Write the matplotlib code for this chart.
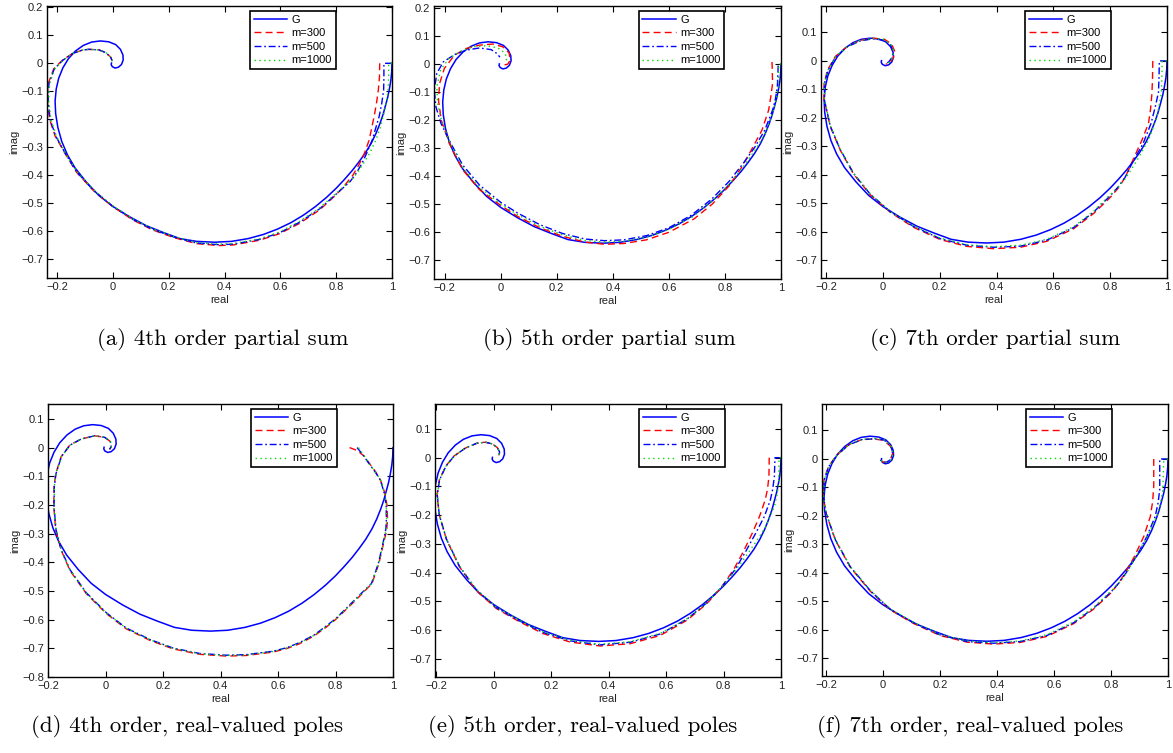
import matplotlib
matplotlib.use("Agg")
import matplotlib.pyplot as plt
from matplotlib.ticker import MultipleLocator, FuncFormatter

plt.rcParams['font.family'] = ['Liberation Sans', 'DejaVu Sans']
plt.rcParams['lines.scale_dashes'] = False

# ---------------- data ----------------
series_labels = ["G", "m=300", "m=500", "m=1000"]
captions = ["(a) 4th order partial sum", "(b) 5th order partial sum", "(c) 7th order partial sum",
            "(d) 4th order, real-valued poles", "(e) 5th order, real-valued poles",
            "(f) 7th order, real-valued poles"]

G_pts = [(1.000,0.000),(0.999,-0.030),(0.996,-0.060),(0.991,-0.090),(0.985,-0.120),(0.977,-0.150),(0.968,-0.183),
         (0.957,-0.215),(0.943,-0.250),(0.926,-0.285),(0.905,-0.320),(0.882,-0.352),(0.858,-0.383),(0.830,-0.415),
         (0.800,-0.447),(0.765,-0.480),(0.725,-0.513),(0.683,-0.543),(0.638,-0.570),(0.590,-0.593),(0.540,-0.612),
         (0.485,-0.627),(0.425,-0.637),(0.365,-0.640),(0.300,-0.637),(0.240,-0.627),(0.180,-0.605),(0.120,-0.581),
         (0.060,-0.549),(0.000,-0.512),(-0.050,-0.473),(-0.095,-0.425),(-0.135,-0.375),(-0.163,-0.327),
         (-0.183,-0.280),(-0.197,-0.230),(-0.205,-0.180),(-0.207,-0.135),(-0.203,-0.092),(-0.194,-0.053),
         (-0.179,-0.016),(-0.159,0.017),(-0.134,0.044),(-0.106,0.064),(-0.076,0.076),(-0.045,0.080),(-0.015,0.077),
         (0.010,0.067),(0.027,0.050),(0.036,0.030),(0.037,0.012),(0.031,-0.004),(0.020,-0.014),(0.008,-0.017),
         (-0.002,-0.012),(-0.006,-0.005),(-0.005,0.001)]

a_m300 = [(0.956,0.000),(0.955,-0.050),(0.951,-0.096),(0.944,-0.145),(0.936,-0.190),(0.918,-0.275),(0.900,-0.325),
          (0.882,-0.362),(0.860,-0.400),(0.830,-0.437),(0.800,-0.470),(0.740,-0.525),(0.668,-0.573),(0.596,-0.610),
          (0.525,-0.633),(0.430,-0.650),(0.380,-0.652),(0.300,-0.645),(0.220,-0.624),(0.140,-0.595),(0.073,-0.561),
          (0.000,-0.513),(-0.070,-0.455),(-0.130,-0.390),(-0.171,-0.323),(-0.207,-0.260),(-0.227,-0.200),
          (-0.235,-0.132),(-0.232,-0.073),(-0.212,-0.020),(-0.180,0.012),(-0.145,0.035),(-0.110,0.047),
          (-0.086,0.050),(-0.050,0.048),(-0.025,0.038),(-0.008,0.022),(-0.002,0.008)]
a_m500 = [(1.000,0.000),(0.971,0.000),(0.971,-0.050),(0.970,-0.096),(0.963,-0.145),(0.954,-0.190),(0.929,-0.275),
          (0.910,-0.320),(0.893,-0.357),(0.872,-0.393),(0.850,-0.423),(0.800,-0.468),(0.740,-0.521),(0.668,-0.569),
          (0.596,-0.607),(0.525,-0.630),(0.430,-0.647),(0.380,-0.649),(0.300,-0.643),(0.220,-0.622),(0.140,-0.593),
          (0.073,-0.559),(0.000,-0.512),(-0.070,-0.454),(-0.130,-0.388),(-0.170,-0.323),(-0.205,-0.260),
          (-0.225,-0.200),(-0.232,-0.132),(-0.229,-0.073),(-0.210,-0.020),(-0.178,0.012),(-0.144,0.035),
          (-0.110,0.047),(-0.086,0.050),(-0.050,0.048),(-0.025,0.038),(-0.008,0.022),(-0.002,0.008)]
a_m1000 = [(1.000,0.000),(0.988,0.000),(0.988,-0.050),(0.986,-0.096),(0.980,-0.140),(0.971,-0.180),(0.958,-0.230),
           (0.942,-0.275),(0.922,-0.318),(0.900,-0.355),(0.878,-0.388),(0.855,-0.417),(0.800,-0.465),(0.740,-0.518),
           (0.668,-0.566),(0.596,-0.604),(0.525,-0.628),(0.430,-0.645),(0.380,-0.647),(0.300,-0.641),(0.220,-0.620),
           (0.140,-0.591),(0.073,-0.557),(0.000,-0.510),(-0.070,-0.452),(-0.130,-0.386),(-0.170,-0.322),
           (-0.203,-0.260),(-0.222,-0.200),(-0.230,-0.132),(-0.227,-0.073),(-0.208,-0.020),(-0.177,0.012),
           (-0.144,0.035),(-0.110,0.047),(-0.086,0.050),(-0.050,0.048),(-0.025,0.038),(-0.008,0.022),(-0.002,0.008)]

b_m300 = [(0.968,0.008),(0.970,-0.069),(0.963,-0.120),(0.956,-0.164),(0.932,-0.236),(0.900,-0.296),(0.862,-0.365),
          (0.815,-0.435),(0.755,-0.500),(0.690,-0.553),(0.600,-0.601),(0.520,-0.628),(0.440,-0.641),(0.370,-0.644),
          (0.300,-0.636),(0.220,-0.615),(0.140,-0.585),(0.060,-0.544),(0.000,-0.505),(-0.076,-0.448),
          (-0.136,-0.377),(-0.183,-0.284),(-0.212,-0.200),(-0.222,-0.129),(-0.218,-0.069),(-0.201,-0.015),
          (-0.165,0.032),(-0.124,0.056),(-0.076,0.068),(-0.028,0.072),(0.008,0.062),(0.030,0.040),(0.034,0.015),
          (0.025,0.000),(0.012,-0.003)]
b_m500 = [(0.990,-0.005),(0.987,-0.081),(0.980,-0.125),(0.970,-0.164),(0.942,-0.236),(0.907,-0.296),(0.867,-0.352),
          (0.814,-0.420),(0.752,-0.483),(0.680,-0.540),(0.600,-0.585),(0.520,-0.613),(0.440,-0.628),(0.370,-0.631),
          (0.300,-0.625),(0.220,-0.605),(0.140,-0.574),(0.060,-0.532),(0.000,-0.494),(-0.076,-0.432),
          (-0.136,-0.360),(-0.177,-0.285),(-0.213,-0.212),(-0.231,-0.153),(-0.237,-0.093),(-0.228,-0.033),
          (-0.205,0.008),(-0.165,0.034),(-0.124,0.050),(-0.076,0.058),(-0.034,0.052),(-0.012,0.037),(-0.003,0.025)]
b_m1000 = [(1.000,0.000),(0.992,0.000),(0.990,-0.080),(0.984,-0.120),(0.975,-0.160),(0.948,-0.240),(0.912,-0.300),
           (0.870,-0.360),(0.816,-0.428),(0.754,-0.490),(0.684,-0.546),(0.600,-0.591),(0.520,-0.619),(0.440,-0.633),
           (0.370,-0.636),(0.300,-0.630),(0.220,-0.610),(0.140,-0.580),(0.060,-0.538),(0.000,-0.500),
           (-0.076,-0.440),(-0.136,-0.368),(-0.180,-0.282),(-0.210,-0.205),(-0.225,-0.140),(-0.228,-0.080),
           (-0.214,-0.020),(-0.185,0.020),(-0.145,0.045),(-0.100,0.062),(-0.050,0.066),(-0.010,0.058),(0.015,0.040),
           (0.022,0.020),(0.015,0.005)]

c_m300 = [(0.950,0.000),(0.949,-0.060),(0.947,-0.114),(0.942,-0.170),(0.935,-0.219),(0.912,-0.278),(0.885,-0.337),
          (0.855,-0.405),(0.830,-0.445),(0.800,-0.480),(0.742,-0.536),(0.671,-0.590),(0.577,-0.634),(0.484,-0.655),
          (0.390,-0.660),(0.296,-0.652),(0.202,-0.628),(0.108,-0.585),(0.026,-0.532),(-0.045,-0.470),
          (-0.103,-0.398),(-0.150,-0.314),(-0.185,-0.231),(-0.207,-0.137),(-0.207,-0.079),(-0.195,-0.032),
          (-0.168,0.015),(-0.127,0.050),(-0.080,0.072),(-0.035,0.080),(0.005,0.076),(0.030,0.060),(0.041,0.035),
          (0.037,0.012),(0.025,-0.006),(0.010,-0.012)]
c_m500 = [(1.000,0.000),(0.973,0.000),(0.972,-0.055),(0.970,-0.110),(0.959,-0.160),(0.944,-0.219),(0.916,-0.290),
          (0.882,-0.350),(0.852,-0.410),(0.828,-0.443),(0.800,-0.474),(0.742,-0.531),(0.671,-0.586),(0.577,-0.630),
          (0.484,-0.651),(0.390,-0.655),(0.296,-0.648),(0.202,-0.625),(0.108,-0.582),(0.026,-0.530),
          (-0.045,-0.468),(-0.103,-0.396),(-0.150,-0.312),(-0.185,-0.230),(-0.206,-0.137),(-0.206,-0.079),
          (-0.193,-0.032),(-0.166,0.015),(-0.125,0.050),(-0.080,0.070),(-0.035,0.078),(0.003,0.073),(0.027,0.056),
          (0.036,0.032),(0.032,0.012),(0.020,-0.004),(0.008,-0.010)]
c_m1000 = [(1.000,0.000),(0.983,0.000),(0.982,-0.060),(0.980,-0.114),(0.965,-0.196),(0.935,-0.278),(0.897,-0.345),
           (0.856,-0.410),(0.830,-0.442),(0.800,-0.470),(0.742,-0.528),(0.671,-0.583),(0.577,-0.627),(0.484,-0.648),
           (0.390,-0.653),(0.296,-0.646),(0.202,-0.623),(0.108,-0.580),(0.026,-0.530),(-0.045,-0.467),
           (-0.103,-0.395),(-0.150,-0.311),(-0.185,-0.229),(-0.206,-0.137),(-0.206,-0.079),(-0.193,-0.032),
           (-0.166,0.016),(-0.125,0.051),(-0.080,0.072),(-0.035,0.079),(0.004,0.075),(0.028,0.058),(0.038,0.034),
           (0.034,0.012),(0.022,-0.005),(0.008,-0.011)]

d_m300 = [(0.849,0.000),(0.875,-0.010),(0.900,-0.030),(0.918,-0.055),(0.940,-0.085),(0.957,-0.115),(0.972,-0.160),
          (0.979,-0.200),(0.981,-0.250),(0.978,-0.288),(0.968,-0.330),(0.951,-0.404),(0.927,-0.474),(0.890,-0.512),
          (0.846,-0.556),(0.800,-0.600),(0.768,-0.626),(0.725,-0.657),(0.675,-0.684),(0.630,-0.701),(0.583,-0.713),
          (0.490,-0.725),(0.420,-0.727),(0.328,-0.721),(0.235,-0.702),(0.154,-0.672),(0.072,-0.632),(0.003,-0.579),
          (-0.067,-0.509),(-0.124,-0.428),(-0.154,-0.358),(-0.173,-0.288),(-0.180,-0.206),(-0.179,-0.136),
          (-0.173,-0.090),(-0.154,-0.031),(-0.124,0.009),(-0.084,0.030),(-0.038,0.041),(-0.003,0.036),
          (0.017,0.021),(0.020,0.003),(0.014,-0.006)]
d_m500 = [(0.875,0.000),(0.895,-0.025),(0.916,-0.055),(0.938,-0.085),(0.956,-0.113),(0.970,-0.160),(0.976,-0.200),
          (0.977,-0.250),(0.975,-0.285),(0.966,-0.330),(0.949,-0.404),(0.925,-0.474),(0.888,-0.510),(0.845,-0.553),
          (0.800,-0.597),(0.768,-0.622),(0.725,-0.654),(0.675,-0.680),(0.630,-0.698),(0.583,-0.710),(0.490,-0.722),
          (0.420,-0.724),(0.328,-0.718),(0.235,-0.699),(0.154,-0.669),(0.072,-0.629),(0.003,-0.576),(-0.067,-0.506),
          (-0.124,-0.425),(-0.154,-0.356),(-0.172,-0.288),(-0.179,-0.206),(-0.178,-0.136),(-0.172,-0.090),
          (-0.153,-0.031),(-0.123,0.009),(-0.084,0.030),(-0.038,0.041),(-0.003,0.036),(0.017,0.021),(0.020,0.003),
          (0.014,-0.006)]
d_m1000 = [(0.880,0.000),(0.897,-0.025),(0.917,-0.055),(0.939,-0.085),(0.957,-0.113),(0.971,-0.160),(0.977,-0.200),
           (0.978,-0.250),(0.976,-0.285),(0.967,-0.330),(0.950,-0.404),(0.926,-0.474),(0.889,-0.511),(0.846,-0.554),
           (0.800,-0.598),(0.768,-0.623),(0.725,-0.655),(0.675,-0.681),(0.630,-0.699),(0.583,-0.711),(0.490,-0.723),
           (0.420,-0.725),(0.328,-0.719),(0.235,-0.700),(0.154,-0.670),(0.072,-0.630),(0.003,-0.577),
           (-0.067,-0.507),(-0.124,-0.426),(-0.154,-0.357),(-0.172,-0.288),(-0.179,-0.206),(-0.178,-0.136),
           (-0.172,-0.090),(-0.153,-0.031),(-0.123,0.009),(-0.084,0.030),(-0.038,0.041),(-0.003,0.036),
           (0.017,0.021),(0.020,0.003),(0.014,-0.006)]

e_m300 = [(0.959,0.000),(0.958,-0.065),(0.953,-0.110),(0.945,-0.147),(0.925,-0.205),(0.900,-0.263),(0.870,-0.325),
          (0.835,-0.390),(0.790,-0.455),(0.740,-0.510),(0.673,-0.566),(0.580,-0.619),(0.475,-0.648),(0.370,-0.656),
          (0.265,-0.642),(0.172,-0.613),(0.090,-0.572),(0.008,-0.525),(-0.062,-0.462),(-0.120,-0.380),
          (-0.165,-0.285),(-0.190,-0.200),(-0.198,-0.130),(-0.190,-0.077),(-0.168,-0.030),(-0.140,0.005),
          (-0.100,0.033),(-0.060,0.050),(-0.030,0.054),(-0.005,0.048),(0.012,0.035),(0.020,0.020),(0.018,0.008)]
e_m500 = [(1.000,0.000),(0.979,0.000),(0.977,-0.065),(0.971,-0.110),(0.963,-0.147),(0.942,-0.205),(0.912,-0.263),
          (0.878,-0.325),(0.840,-0.390),(0.792,-0.452),(0.740,-0.507),(0.673,-0.562),(0.580,-0.614),(0.475,-0.643),
          (0.370,-0.652),(0.265,-0.638),(0.172,-0.609),(0.090,-0.569),(0.008,-0.522),(-0.062,-0.459),
          (-0.120,-0.378),(-0.165,-0.284),(-0.190,-0.200),(-0.197,-0.130),(-0.189,-0.077),(-0.167,-0.030),
          (-0.139,0.005),(-0.100,0.033),(-0.060,0.050),(-0.030,0.054),(-0.005,0.048),(0.012,0.035),(0.020,0.020),
          (0.018,0.008)]
e_m1000 = [(1.000,0.000),(0.993,0.000),(0.992,-0.089),(0.986,-0.130),(0.977,-0.170),(0.947,-0.240),(0.915,-0.290),
           (0.880,-0.340),(0.840,-0.395),(0.792,-0.452),(0.740,-0.506),(0.673,-0.561),(0.580,-0.612),(0.475,-0.641),
           (0.370,-0.650),(0.265,-0.636),(0.172,-0.607),(0.090,-0.567),(0.008,-0.520),(-0.062,-0.457),
           (-0.120,-0.377),(-0.165,-0.283),(-0.190,-0.200),(-0.197,-0.130),(-0.189,-0.077),(-0.167,-0.030),
           (-0.139,0.005),(-0.100,0.033),(-0.060,0.050),(-0.030,0.054),(-0.005,0.048),(0.012,0.035),(0.020,0.020),
           (0.018,0.008)]

f_m300 = [(0.950,0.000),(0.950,-0.096),(0.946,-0.150),(0.938,-0.202),(0.915,-0.272),(0.882,-0.343),(0.850,-0.400),
          (0.826,-0.437),(0.800,-0.470),(0.739,-0.527),(0.669,-0.578),(0.575,-0.623),(0.482,-0.644),(0.388,-0.650),
          (0.295,-0.643),(0.201,-0.620),(0.108,-0.578),(0.026,-0.530),(-0.044,-0.465),(-0.115,-0.380),
          (-0.167,-0.285),(-0.200,-0.190),(-0.210,-0.131),(-0.207,-0.073),(-0.191,-0.026),(-0.161,0.015),
          (-0.120,0.050),(-0.074,0.068),(-0.033,0.070),(0.002,0.066),(0.026,0.045),(0.034,0.020),(0.026,-0.002),
          (0.012,-0.012),(-0.002,-0.010),(-0.010,-0.002)]
f_m500 = [(1.000,0.000),(0.971,0.000),(0.971,-0.108),(0.965,-0.155),(0.955,-0.202),(0.926,-0.272),(0.890,-0.340),
          (0.853,-0.400),(0.828,-0.435),(0.800,-0.467),(0.739,-0.524),(0.669,-0.575),(0.575,-0.620),(0.482,-0.641),
          (0.388,-0.647),(0.295,-0.641),(0.201,-0.618),(0.108,-0.576),(0.026,-0.528),(-0.044,-0.463),
          (-0.115,-0.378),(-0.167,-0.284),(-0.200,-0.190),(-0.209,-0.131),(-0.206,-0.073),(-0.190,-0.026),
          (-0.160,0.015),(-0.119,0.050),(-0.074,0.068),(-0.033,0.071),(0.003,0.067),(0.027,0.046),(0.035,0.020),
          (0.027,-0.002),(0.012,-0.012),(-0.002,-0.010),(-0.010,-0.002)]
f_m1000 = [(1.000,0.000),(0.985,-0.008),(0.982,-0.108),(0.973,-0.158),(0.961,-0.202),(0.932,-0.261),(0.895,-0.330),
           (0.856,-0.398),(0.830,-0.433),(0.800,-0.464),(0.739,-0.521),(0.669,-0.572),(0.575,-0.617),(0.482,-0.639),
           (0.388,-0.645),(0.295,-0.639),(0.201,-0.616),(0.108,-0.574),(0.026,-0.527),(-0.044,-0.462),
           (-0.115,-0.377),(-0.167,-0.283),(-0.200,-0.190),(-0.209,-0.131),(-0.206,-0.073),(-0.190,-0.026),
           (-0.160,0.016),(-0.119,0.051),(-0.074,0.069),(-0.033,0.072),(0.003,0.068),(0.028,0.047),(0.036,0.020),
           (0.028,-0.002),(0.013,-0.012),(-0.002,-0.010),(-0.010,-0.002)]

# ---------------- layout ----------------
W, H = 1173, 753
fig = plt.figure(figsize=(W / 100, H / 100), dpi=100)

# (left, top, right, bottom) in pixels, xlim, ylim, caption centre (px)
panels = [
    ((47, 6, 392, 278), (-0.236, 1.0), (-0.768, 0.205), (223, 339), a_m300, a_m500, a_m1000),
    ((434, 6, 781, 279), (-0.238, 1.0), (-0.768, 0.208), (609, 339), b_m300, b_m500, b_m1000),
    ((821, 6, 1167, 278), (-0.218, 1.0), (-0.763, 0.193), (995, 339), c_m300, c_m500, c_m1000),
    ((48, 404, 393, 677), (-0.200, 1.0), (-0.800, 0.152), (187, 727), d_m300, d_m500, d_m1000),
    ((435, 404, 781, 677), (-0.205, 1.0), (-0.764, 0.187), (583, 727), e_m300, e_m500, e_m1000),
    ((822, 404, 1168, 676), (-0.214, 1.0), (-0.762, 0.193), (970, 727), f_m300, f_m500, f_m1000),
]


def fmt(v, pos):
    v = round(v, 6)
    if abs(v) < 1e-9:
        return "0"
    s = "%g" % v
    return s.replace("-", "\u2212")


Gx, Gy = zip(*G_pts)
for i, (box, xl, yl, cap, m300, m500, m1000) in enumerate(panels):
    l, t, r, b = box
    ax = fig.add_axes([l / W, 1 - b / H, (r - l) / W, (b - t) / H])
    h1, = ax.plot(Gx, Gy, color='#0000ff', lw=1.1, ls='-', label=series_labels[0])
    x3, y3 = zip(*m300)
    h2, = ax.plot(x3, y3, color='#ff0000', lw=1.0, ls=(0, (5, 3)), label=series_labels[1])
    x5, y5 = zip(*m500)
    h3, = ax.plot(x5, y5, color='#0000ff', lw=1.0, ls=(0, (5, 2, 1.2, 2)), label=series_labels[2])
    x10, y10 = zip(*m1000)
    h4, = ax.plot(x10, y10, color='#00dd00', lw=1.0, ls=(0, (1, 2.5)), label=series_labels[3])

    ax.set_xlim(*xl)
    ax.set_ylim(*yl)
    ax.xaxis.set_major_locator(MultipleLocator(0.2))
    ax.yaxis.set_major_locator(MultipleLocator(0.1))
    ax.xaxis.set_major_formatter(FuncFormatter(fmt))
    ax.yaxis.set_major_formatter(FuncFormatter(fmt))
    ax.tick_params(direction='in', top=True, right=True, length=4, width=0.8,
                   labelsize=8, pad=3, colors='black', labelcolor='#222222')
    for sp in ax.spines.values():
        sp.set_linewidth(1.0)
    ax.set_xlabel("real", fontsize=8, labelpad=2, color='#222222')
    ax.set_ylabel("imag", fontsize=8, labelpad=1, color='#222222')

    leg = ax.legend(handles=[h1, h2, h3, h4], loc='upper right', bbox_to_anchor=(0.837, 0.982),
                    borderaxespad=0, fontsize=8, frameon=True, fancybox=False, handlelength=3.0,
                    labelspacing=0.32, borderpad=0.35, handletextpad=0.4)
    fr = leg.get_frame()
    fr.set_edgecolor('black')
    fr.set_linewidth(1.2)
    fr.set_alpha(1)

    fig.text(cap[0] / W, 1 - cap[1] / H, captions[i], ha='center', va='center',
             fontsize=16.5, family='cmr10')

fig.savefig("out.png", dpi=100)
